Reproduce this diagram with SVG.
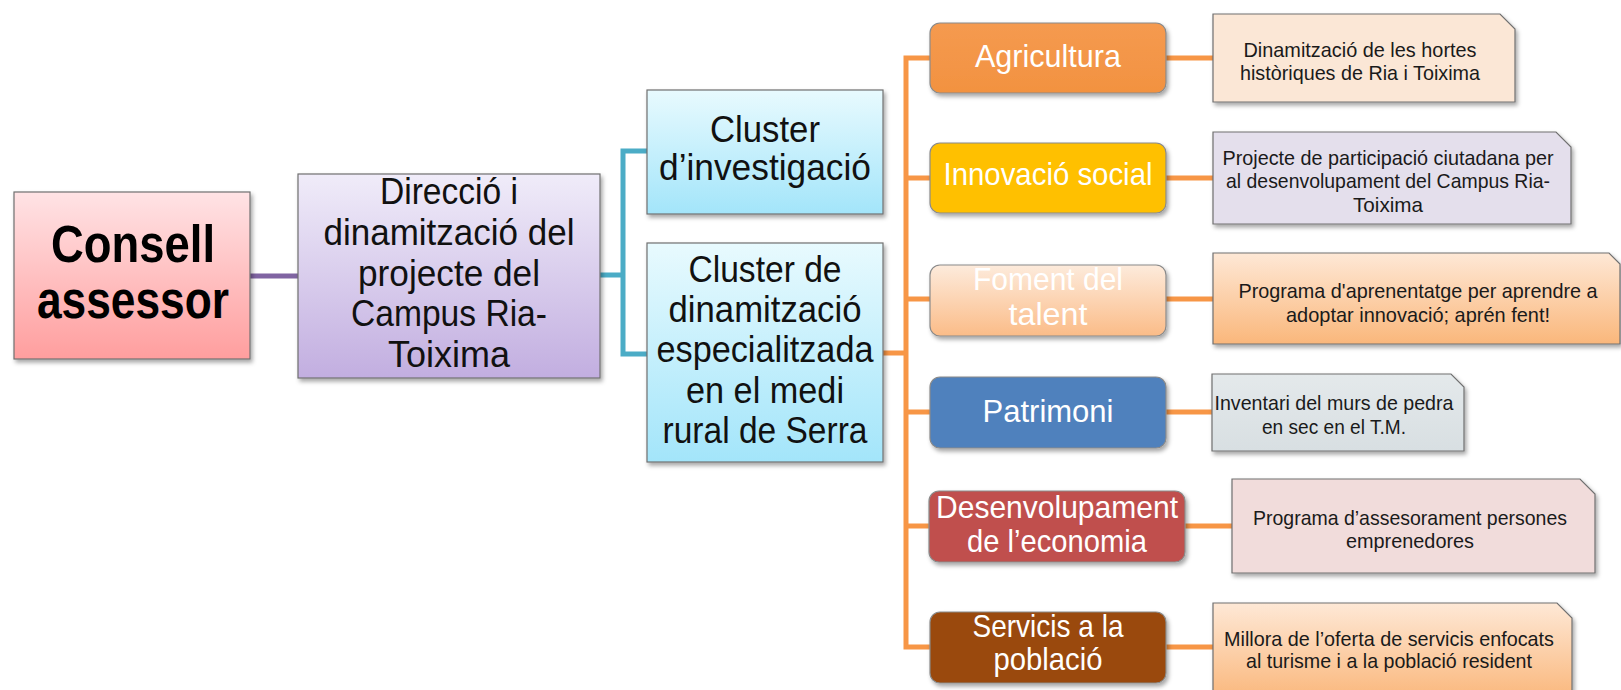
<svg xmlns="http://www.w3.org/2000/svg" width="1621" height="690" viewBox="0 0 1621 690">
<defs>
  <linearGradient id="gPink" x1="0" y1="0" x2="0" y2="1"><stop offset="0" stop-color="#FFE3E5"/><stop offset="1" stop-color="#FF9E9E"/></linearGradient>
  <linearGradient id="gLav" x1="0" y1="0" x2="0" y2="1"><stop offset="0" stop-color="#F0ECF9"/><stop offset="1" stop-color="#C2AEE0"/></linearGradient>
  <linearGradient id="gCyan" x1="0" y1="0" x2="0" y2="1"><stop offset="0" stop-color="#E8FAFE"/><stop offset="1" stop-color="#A3E5FA"/></linearGradient>
  <linearGradient id="gOrange" x1="0" y1="0" x2="0" y2="1"><stop offset="0" stop-color="#F59A50"/><stop offset="1" stop-color="#F29240"/></linearGradient>
  <linearGradient id="gPeach" x1="0" y1="0" x2="0" y2="1"><stop offset="0" stop-color="#FDEBDC"/><stop offset="1" stop-color="#FBBC88"/></linearGradient>
  <linearGradient id="gPeachNote" x1="0" y1="0" x2="0" y2="1"><stop offset="0" stop-color="#FEE8D6"/><stop offset="1" stop-color="#FAB77B"/></linearGradient>
  <linearGradient id="gGray" x1="0" y1="0" x2="0" y2="1"><stop offset="0" stop-color="#E4E9EB"/><stop offset="1" stop-color="#D8DFE2"/></linearGradient>
  <filter id="sh" x="-10%" y="-10%" width="130%" height="140%">
    <feDropShadow dx="2" dy="3" stdDeviation="2" flood-color="#000" flood-opacity="0.35"/>
  </filter>
</defs>
<style>
  text{font-family:"Liberation Sans",Arial,sans-serif;text-anchor:middle}
  .box{stroke:#707070;stroke-width:1.2;filter:url(#sh)}
  .cbox{stroke:#8a8a8a;stroke-width:1.2;filter:url(#sh)}
  .big{font-size:51px;font-weight:bold;fill:#000}
  .lbl{font-size:37px;fill:#111}
  .cat{font-size:32px;fill:#fff}
  .note{font-size:21px;fill:#1a1a1a}
  .conn{fill:none;stroke-width:5}
  .purple{stroke:#8064A2}
  .cyan{stroke:#4BACC6}
  .orange{stroke:#F79646}
</style>
<rect x="0" y="0" width="1621" height="690" fill="#fff"/>

<g id="connectors">
  <path class="conn purple" d="M250,276 H298"/>
  <path class="conn cyan" d="M600,275 H623 M647,151 H623 V354 H647"/>
  <path class="conn orange" d="M883,353 H906 M930,58 H906 V647 H930 M906,178 H930 M906,299 H930 M906,412 H930 M906,526 H929"/>
  <path class="conn orange" d="M1166,58 H1213 M1166,178 H1213 M1166,299 H1213 M1166,412 H1212 M1185,526 H1232 M1166,647 H1213"/>
</g>

<g id="consell">
  <rect class="box" x="14" y="192" width="236" height="167" fill="url(#gPink)"/>
  <text class="big" x="133" y="262" textLength="164" lengthAdjust="spacingAndGlyphs">Consell</text>
  <text class="big" x="133" y="318" textLength="192" lengthAdjust="spacingAndGlyphs">assessor</text>
</g>

<g id="direccio">
  <rect class="box" x="298" y="174" width="302" height="204" fill="url(#gLav)"/>
  <text class="lbl" x="449" y="204" textLength="138" lengthAdjust="spacingAndGlyphs">Direcció i</text>
  <text class="lbl" x="449" y="245" textLength="251" lengthAdjust="spacingAndGlyphs">dinamització del</text>
  <text class="lbl" x="449" y="285.5" textLength="182" lengthAdjust="spacingAndGlyphs">projecte del</text>
  <text class="lbl" x="449" y="326" textLength="196" lengthAdjust="spacingAndGlyphs">Campus Ria-</text>
  <text class="lbl" x="449" y="367" textLength="122" lengthAdjust="spacingAndGlyphs">Toixima</text>
</g>

<g id="cluster-investigacio">
  <rect class="box" x="647" y="90" width="236" height="124" fill="url(#gCyan)"/>
  <text class="lbl" x="765" y="142" textLength="110" lengthAdjust="spacingAndGlyphs">Cluster</text>
  <text class="lbl" x="765" y="180" textLength="212" lengthAdjust="spacingAndGlyphs">d’investigació</text>
</g>

<g id="cluster-dinamitzacio">
  <rect class="box" x="647" y="243" width="236" height="219" fill="url(#gCyan)"/>
  <text class="lbl" x="765" y="282" textLength="153" lengthAdjust="spacingAndGlyphs">Cluster de</text>
  <text class="lbl" x="765" y="322" textLength="193" lengthAdjust="spacingAndGlyphs">dinamització</text>
  <text class="lbl" x="765" y="362" textLength="217" lengthAdjust="spacingAndGlyphs">especialitzada</text>
  <text class="lbl" x="765" y="403" textLength="158" lengthAdjust="spacingAndGlyphs">en el medi</text>
  <text class="lbl" x="765" y="443" textLength="205" lengthAdjust="spacingAndGlyphs">rural de Serra</text>
</g>

<g id="agricultura">
  <rect class="cbox" x="930" y="23" width="236" height="70" rx="10" fill="url(#gOrange)"/>
  <text class="cat" x="1048" y="67" textLength="146" lengthAdjust="spacingAndGlyphs">Agricultura</text>
</g>
<g id="innovacio">
  <rect class="cbox" x="930" y="143" width="236" height="70" rx="10" fill="#FFC000"/>
  <text class="cat" x="1048" y="185" textLength="209" lengthAdjust="spacingAndGlyphs">Innovació social</text>
</g>
<g id="foment">
  <rect class="cbox" x="930" y="265" width="236" height="71" rx="10" fill="url(#gPeach)"/>
  <text class="cat" x="1048" y="290" textLength="150" lengthAdjust="spacingAndGlyphs">Foment del</text>
  <text class="cat" x="1048" y="325" textLength="79" lengthAdjust="spacingAndGlyphs">talent</text>
</g>
<g id="patrimoni">
  <rect class="cbox" x="930" y="377" width="236" height="71" rx="10" fill="#4F81BD"/>
  <text class="cat" x="1048" y="422" textLength="131" lengthAdjust="spacingAndGlyphs">Patrimoni</text>
</g>
<g id="desenvolupament">
  <rect class="cbox" x="929" y="491" width="256" height="71" rx="10" fill="#C0504D"/>
  <text class="cat" x="1057" y="518" textLength="242" lengthAdjust="spacingAndGlyphs">Desenvolupament</text>
  <text class="cat" x="1057" y="552" textLength="180" lengthAdjust="spacingAndGlyphs">de l’economia</text>
</g>
<g id="servicis">
  <rect class="cbox" x="930" y="612" width="236" height="71" rx="10" fill="#9A4A0B"/>
  <text class="cat" x="1048" y="637" textLength="151" lengthAdjust="spacingAndGlyphs">Servicis a la</text>
  <text class="cat" x="1048" y="670" textLength="109" lengthAdjust="spacingAndGlyphs">població</text>
</g>

<g id="note-agricultura">
  <path class="box" d="M1213,14 H1500 L1515,29 V102 H1213 Z" fill="#FBE7D6"/>
  <text class="note" x="1360" y="57" textLength="233" lengthAdjust="spacingAndGlyphs">Dinamització de les hortes</text>
  <text class="note" x="1360" y="80" textLength="240" lengthAdjust="spacingAndGlyphs">històriques de Ria i Toixima</text>
</g>
<g id="note-innovacio">
  <path class="box" d="M1213,132 H1556 L1571,147 V224 H1213 Z" fill="#E4DFEC"/>
  <text class="note" x="1388" y="165" textLength="331" lengthAdjust="spacingAndGlyphs">Projecte de participació ciutadana per</text>
  <text class="note" x="1388" y="188" textLength="324" lengthAdjust="spacingAndGlyphs">al desenvolupament del Campus Ria-</text>
  <text class="note" x="1388" y="212" textLength="70" lengthAdjust="spacingAndGlyphs">Toixima</text>
</g>
<g id="note-foment">
  <path class="box" d="M1213,253 H1609 L1620,264 V344 H1213 Z" fill="url(#gPeachNote)"/>
  <text class="note" x="1418" y="298" textLength="359" lengthAdjust="spacingAndGlyphs">Programa d'aprenentatge per aprendre a</text>
  <text class="note" x="1418" y="322" textLength="264" lengthAdjust="spacingAndGlyphs">adoptar innovació; aprén fent!</text>
</g>
<g id="note-patrimoni">
  <path class="box" d="M1212,374 H1451 L1464,387 V451 H1212 Z" fill="url(#gGray)"/>
  <text class="note" x="1334" y="410" textLength="239" lengthAdjust="spacingAndGlyphs">Inventari del murs de pedra</text>
  <text class="note" x="1334" y="434" textLength="144" lengthAdjust="spacingAndGlyphs">en sec en el T.M.</text>
</g>
<g id="note-desenvolupament">
  <path class="box" d="M1232,479 H1580 L1595,494 V573 H1232 Z" fill="#F1DCDB"/>
  <text class="note" x="1410" y="525" textLength="314" lengthAdjust="spacingAndGlyphs">Programa d’assesorament persones</text>
  <text class="note" x="1410" y="548" textLength="128" lengthAdjust="spacingAndGlyphs">emprenedores</text>
</g>
<g id="note-servicis">
  <path class="box" d="M1213,603 H1557 L1572,618 V700 H1213 Z" fill="url(#gPeachNote)"/>
  <text class="note" x="1389" y="646" textLength="330" lengthAdjust="spacingAndGlyphs">Millora de l’oferta de servicis enfocats</text>
  <text class="note" x="1389" y="668" textLength="286" lengthAdjust="spacingAndGlyphs">al turisme i a la població resident</text>
</g>
</svg>
